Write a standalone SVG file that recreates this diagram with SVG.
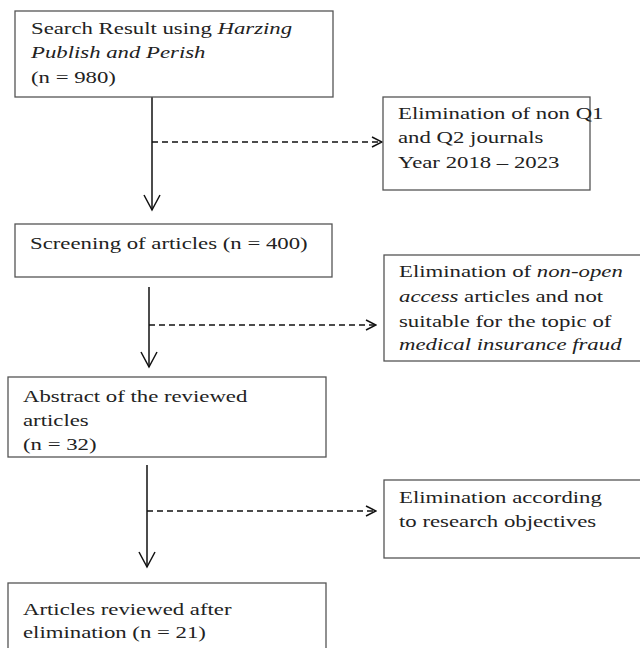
<svg xmlns="http://www.w3.org/2000/svg" width="640" height="648" viewBox="0 0 640 648">
<style>
.box{fill:#fff;stroke:#555;stroke-width:1.3}
.t{font-family:"Liberation Serif","Times New Roman",serif;font-size:16.5px;fill:#222}
.i{font-style:italic}
.solid{stroke:#111;stroke-width:1.5;fill:none}
.dash{stroke:#111;stroke-width:1.3;fill:none;stroke-dasharray:6,4}
</style>
<defs>
<marker id="ah" viewBox="0 0 12 12" refX="11" refY="6" markerWidth="12" markerHeight="12" markerUnits="userSpaceOnUse" orient="auto">
<path d="M1,1 L11,6 L1,11" fill="none" stroke="#111" stroke-width="1.5"/>
</marker>
<marker id="ahs" viewBox="0 0 18 18" refX="16" refY="9" markerWidth="18" markerHeight="18" markerUnits="userSpaceOnUse" orient="auto">
<path d="M1,1 L16,9 L1,17" fill="none" stroke="#111" stroke-width="1.5"/>
</marker>
</defs>
<rect width="640" height="648" fill="#fff"/>
<g id="connectors">
<line class="solid" x1="152" y1="97" x2="152" y2="210" marker-end="url(#ahs)"/>
<line class="dash" x1="152" y1="142" x2="382" y2="142" marker-end="url(#ah)"/>
<line class="solid" x1="149" y1="287" x2="149" y2="367" marker-end="url(#ahs)"/>
<line class="dash" x1="149" y1="325" x2="376" y2="325" marker-end="url(#ah)"/>
<line class="solid" x1="147" y1="465" x2="147" y2="567" marker-end="url(#ahs)"/>
<line class="dash" x1="147" y1="511" x2="376" y2="511" marker-end="url(#ah)"/>
</g>
<g id="n1">
<rect class="box" x="15" y="11" width="318" height="86"/>
<text class="t" transform="matrix(1.38 0 0 1 31 34)">Search Result using <tspan class="i">Harzing</tspan></text>
<text class="t i" transform="matrix(1.38 0 0 1 31 58)">Publish and Perish</text>
<text class="t" transform="matrix(1.38 0 0 1 31 83)">(n = 980)</text>
</g>
<g id="n2">
<rect class="box" x="383" y="97" width="207" height="93"/>
<text class="t" transform="matrix(1.38 0 0 1 398 119)">Elimination of non Q1</text>
<text class="t" transform="matrix(1.38 0 0 1 398 143)">and Q2 journals</text>
<text class="t" transform="matrix(1.38 0 0 1 398 168)">Year 2018 – 2023</text>
</g>
<g id="n3">
<rect class="box" x="15" y="224" width="317" height="53"/>
<text class="t" transform="matrix(1.38 0 0 1 30 249)">Screening of articles (n = 400)</text>
</g>
<g id="n4">
<rect class="box" x="384" y="255" width="270" height="106"/>
<text class="t" transform="matrix(1.38 0 0 1 399 277)">Elimination of <tspan class="i">non-open</tspan></text>
<text class="t" transform="matrix(1.38 0 0 1 399 302)"><tspan class="i">access</tspan> articles and not</text>
<text class="t" transform="matrix(1.38 0 0 1 399 327)">suitable for the topic of</text>
<text class="t i" transform="matrix(1.38 0 0 1 399 350)">medical insurance fraud</text>
</g>
<g id="n5">
<rect class="box" x="8" y="377" width="318" height="80"/>
<text class="t" transform="matrix(1.38 0 0 1 23 402)">Abstract of the reviewed</text>
<text class="t" transform="matrix(1.38 0 0 1 23 426)">articles</text>
<text class="t" transform="matrix(1.38 0 0 1 23 450)">(n = 32)</text>
</g>
<g id="n6">
<rect class="box" x="384" y="480" width="270" height="78"/>
<text class="t" transform="matrix(1.38 0 0 1 399 503)">Elimination according</text>
<text class="t" transform="matrix(1.38 0 0 1 399 527)">to research objectives</text>
</g>
<g id="n7">
<rect class="box" x="8" y="583" width="318" height="80"/>
<text class="t" transform="matrix(1.38 0 0 1 23 615)">Articles reviewed after</text>
<text class="t" transform="matrix(1.38 0 0 1 23 638)">elimination (n = 21)</text>
</g>
</svg>
